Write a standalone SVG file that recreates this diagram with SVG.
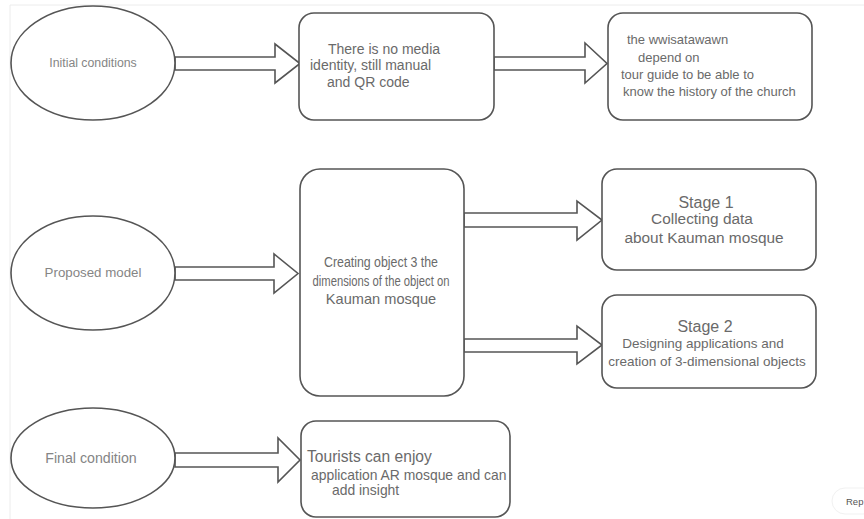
<svg xmlns="http://www.w3.org/2000/svg" width="864" height="519" viewBox="0 0 864 519">
<style>
.node{fill:#fff;stroke:#555;stroke-width:1.6}
.arrow{fill:#fff;stroke:#555;stroke-width:1.6;stroke-linejoin:miter}
.t{font-family:"Liberation Sans",Arial,sans-serif;fill:#6a6a6a}
.e{font-family:"Liberation Sans",Arial,sans-serif;fill:#858585;text-anchor:middle}
.c{text-anchor:middle}
</style>
<rect x="0" y="0" width="864" height="519" fill="#fff"/>
<path d="M10 519 V5 H864" fill="none" stroke="#ececec" stroke-width="1"/>

<g id="connectors">
<polygon class="arrow" points="175,57 275,57 275,44 300,63.5 275,83 275,70 175,70"/>
<polygon class="arrow" points="494,57 585,57 585,43 607,63.5 585,83 585,70 494,70"/>
<polygon class="arrow" points="175,267 274,267 274,254 298,273.5 274,293 274,280 175,280"/>
<polygon class="arrow" points="464,213 577,213 577,201 602,220 577,240 577,227 464,227"/>
<polygon class="arrow" points="464,339 577,339 577,326 602,345 577,364 577,352 464,352"/>
<polygon class="arrow" points="175,453 278,453 278,438 300,460 278,482 278,467 175,467"/>
</g>

<g id="initial">
<ellipse class="node" cx="93" cy="63" rx="82" ry="57"/>
<text class="e" x="93" y="67" font-size="12.3">Initial conditions</text>
</g>
<g id="no-media">
<rect class="node" x="299" y="13" width="195" height="107" rx="15"/>
<text class="t" font-size="14"><tspan x="328" y="54">There is no media</tspan><tspan x="310" y="70">identity, still manual</tspan><tspan x="327" y="87">and QR code</tspan></text>
</g>
<g id="tour-guide">
<rect class="node" x="608" y="13" width="204" height="107" rx="15"/>
<text class="t" font-size="13"><tspan x="627" y="44">the wwisatawawn</tspan><tspan x="638" y="62">depend on</tspan><tspan x="621" y="79">tour guide to be able to</tspan><tspan x="623" y="96">know the history of the church</tspan></text>
</g>

<g id="proposed">
<ellipse class="node" cx="93" cy="273" rx="82" ry="57"/>
<text class="e" x="93" y="277" font-size="13.3">Proposed model</text>
</g>
<g id="creating">
<rect class="node" x="300" y="169" width="164" height="227" rx="20"/>
<text class="t c" font-size="14" x="381" y="267" textLength="114" lengthAdjust="spacingAndGlyphs">Creating object 3 the</text>
<text class="t c" font-size="14" x="381" y="286" textLength="137" lengthAdjust="spacingAndGlyphs">dimensions of the object on</text>
<text class="t c" font-size="14.6" x="381" y="304">Kauman mosque</text>
</g>
<g id="stage1">
<rect class="node" x="602" y="169" width="214" height="101" rx="15"/>
<text class="t c" font-size="16" x="706" y="208">Stage 1</text>
<text class="t c" font-size="15.4" x="702" y="224">Collecting data</text>
<text class="t c" font-size="15.4" x="704" y="243">about Kauman mosque</text>
</g>
<g id="stage2">
<rect class="node" x="602" y="295" width="214" height="93" rx="15"/>
<text class="t c" font-size="16" x="705" y="332">Stage 2</text>
<text class="t c" font-size="13.5" x="703" y="348">Designing applications and</text>
<text class="t c" font-size="13.5" x="707" y="366">creation of 3-dimensional objects</text>
</g>

<g id="final">
<ellipse class="node" cx="93" cy="458" rx="82" ry="50"/>
<text class="e" x="91" y="463" font-size="14.2">Final condition</text>
</g>
<g id="tourists">
<rect class="node" x="301" y="421" width="209" height="96" rx="15"/>
<text class="t" font-size="15.6"><tspan x="307" y="462">Tourists can enjoy</tspan></text>
<text class="t" font-size="13.9"><tspan x="311" y="480">application AR mosque and can</tspan><tspan x="332" y="495">add insight</tspan></text>
</g>

<g id="rep">
<rect x="832" y="488" width="44" height="26" rx="13" fill="#fff" stroke="#f1f1f1"/>
<text x="846" y="505" font-family="Liberation Sans,Arial,sans-serif" font-size="9.5" fill="#555">Rep</text>
</g>
</svg>
